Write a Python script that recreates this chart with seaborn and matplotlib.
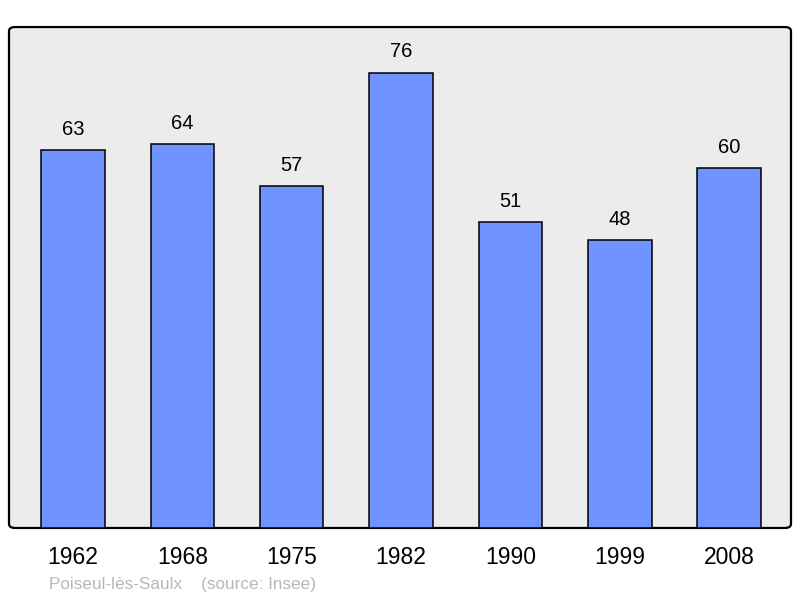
import matplotlib
matplotlib.use("Agg")
import matplotlib.pyplot as plt
from matplotlib.patches import FancyBboxPatch
import seaborn as sns

# Données de population
annees = ['1962', '1968', '1975', '1982', '1990', '1999', '2008']
population = [63, 64, 57, 76, 51, 48, 60]
commune = 'Poiseul-lès-Saulx'
source = '(source: Insee)'

sns.set_style('white')
plt.rcParams['font.family'] = ['Liberation Sans', 'DejaVu Sans']

fig = plt.figure(figsize=(8, 5.98), dpi=100)
ax = fig.add_axes([0.01125, 0.1171, 0.9775, 0.8377])
ax.set_facecolor('none')

# Fond gris avec coins arrondis
cadre = FancyBboxPatch((0, 0), 1, 1, boxstyle='round,pad=0,rounding_size=0.008',
                       transform=ax.transAxes, facecolor='#ececec',
                       edgecolor='black', linewidth=1.6, zorder=0, clip_on=False)
ax.add_patch(cadre)

sns.barplot(x=annees, y=population, color='#7094ff', saturation=1,
            edgecolor='black', linewidth=1.1, width=0.58, ax=ax, zorder=2)

for c in ax.containers:
    ax.bar_label(c, fmt='%d', padding=8, fontsize=14.5, color='black')

ax.set_xlim(-0.585, 6.565)
ax.set_ylim(0, 83.6)
ax.set_yticks([])
ax.set_xlabel('')
ax.set_ylabel('')
ax.tick_params(axis='x', length=0, pad=13, labelsize=16.5, labelcolor='black')
for s in ax.spines.values():
    s.set_visible(False)

fig.text(49 / 800, 1 - 584 / 598, commune + '    ' + source,
         fontsize=12.3, color='#b8b8b8', va='center', ha='left')

fig.savefig('out.png', dpi=100, facecolor='white')
